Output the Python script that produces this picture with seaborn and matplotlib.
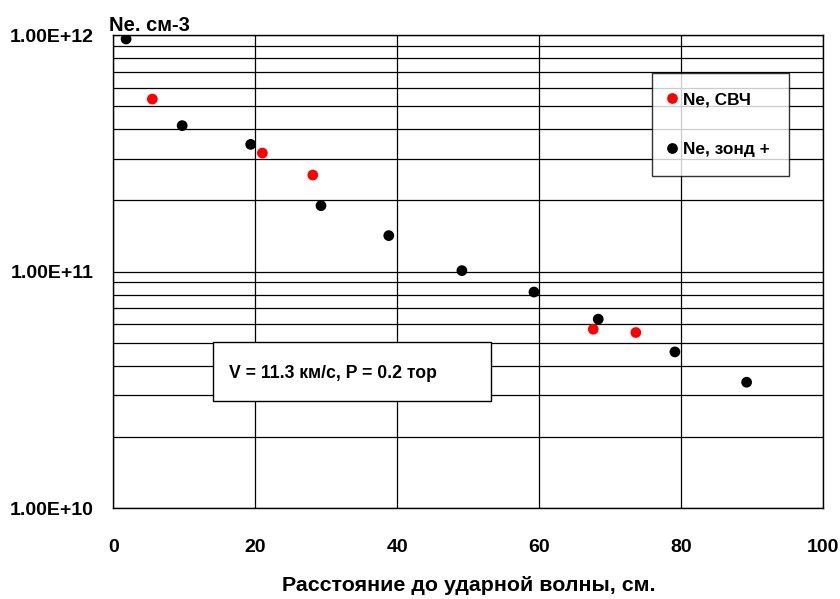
import matplotlib
matplotlib.use("Agg")
import matplotlib.pyplot as plt
import matplotlib.ticker as mticker
from matplotlib.patches import Rectangle
import seaborn as sns
import pandas as pd

# Data
svch_x = [5.5, 21.0, 28.1, 67.6, 73.6]
svch_y = [5.36e11, 3.17e11, 2.56e11, 5.71e10, 5.53e10]
zond_x = [1.8, 9.7, 19.35, 29.25, 38.8, 49.1, 59.25, 68.3, 79.1, 89.2]
zond_y = [9.62e11, 4.14e11, 3.45e11, 1.90e11, 1.42e11, 1.01e11, 8.2e10, 6.3e10, 4.58e10, 3.41e10]
series_names = ["Ne, СВЧ", "Ne, зонд +"]
series_colors = ["#FF0000", "#000000"]
x_ticks = [0, 20, 40, 60, 80, 100]
y_major = [1e10, 1e11, 1e12]
x_label = "Расстояние до ударной волны, см."
y_title = "Ne. см-3"
note = "V = 11.3 км/с, P = 0.2 тор"

df = pd.DataFrame({
    "x": svch_x + zond_x,
    "y": svch_y + zond_y,
    "series": [series_names[0]] * len(svch_x) + [series_names[1]] * len(zond_x),
})

sns.set_style("white")
plt.rcParams["font.family"] = ["Liberation Sans", "DejaVu Sans"]
plt.rcParams["font.weight"] = "bold"
plt.rcParams["text.color"] = "black"
plt.rcParams["xtick.color"] = "black"
plt.rcParams["ytick.color"] = "black"
plt.rcParams["axes.labelcolor"] = "black"

fig = plt.figure(figsize=(8.4, 5.99), dpi=100)
ax = fig.add_axes([113.3 / 840, 1 - 508.3 / 599, 710 / 840, 473.3 / 599])

sns.scatterplot(data=df, x="x", y="y", hue="series", hue_order=series_names,
                palette=series_colors, s=60, linewidth=0, ax=ax, zorder=5,
                legend=True)

ax.set_yscale("log")
ax.set_xlim(0, 100)
ax.set_ylim(1e10, 1e12)

ax.xaxis.set_major_locator(mticker.FixedLocator(x_ticks))
ax.yaxis.set_major_locator(mticker.FixedLocator(y_major))
ax.yaxis.set_minor_locator(mticker.LogLocator(base=10, subs=[2, 3, 4, 5, 6, 7, 8, 9]))
ax.yaxis.set_minor_formatter(mticker.NullFormatter())
ax.yaxis.set_major_formatter(mticker.FuncFormatter(lambda v, p: "%.2E" % v))

ax.tick_params(axis="both", which="major", direction="out", length=7, width=1,
               color="black", labelcolor="black", labelsize=14)
ax.tick_params(axis="x", which="major", pad=15)
ax.tick_params(axis="y", which="major", pad=7)
ax.tick_params(axis="y", which="minor", length=0)
for lab in ax.get_xticklabels() + ax.get_yticklabels():
    lab.set_fontweight("bold")

ax.grid(True, axis="x", which="major", color="black", linewidth=0.9)
ax.grid(True, axis="y", which="both", color="black", linewidth=0.9)
ax.set_axisbelow(True)
for s in ax.spines.values():
    s.set_color("black")
    s.set_linewidth(1.0)

ax.set_xlabel(x_label, fontsize=15.4, fontweight="bold", color="black")
ax.xaxis.set_label_coords(0.5, -0.143)
ax.set_ylabel("")
fig.text(109 / 840, 1 - 30.7 / 599, y_title, fontsize=14.5, fontweight="bold",
         va="baseline", ha="left", color="black")

# Annotation box
ax.add_patch(Rectangle((0.1408, 0.2273), 0.5315 - 0.1408, 0.3507 - 0.2273,
                       transform=ax.transAxes, facecolor="white",
                       edgecolor="black", linewidth=1.0, zorder=6))
ax.text(0.1634, 0.2838, note, transform=ax.transAxes, fontsize=12.7,
        fontweight="bold", va="center", ha="left", zorder=7, color="black")

# Legend
leg = ax.legend(loc="upper left", bbox_to_anchor=(0.7583, 0.9195),
                frameon=True, fancybox=False, shadow=False, fontsize=12.4,
                labelspacing=2.0, borderpad=1.12, handlelength=0.1,
                handletextpad=0.58, borderaxespad=0, markerscale=1.0,
                title=None)
leg.get_frame().set_edgecolor("black")
leg.get_frame().set_linewidth(1.0)
leg.set_zorder(8)
for t in leg.get_texts():
    t.set_fontweight("bold")
    t.set_color("black")

fig.savefig("out.png", dpi=100, facecolor="white")
